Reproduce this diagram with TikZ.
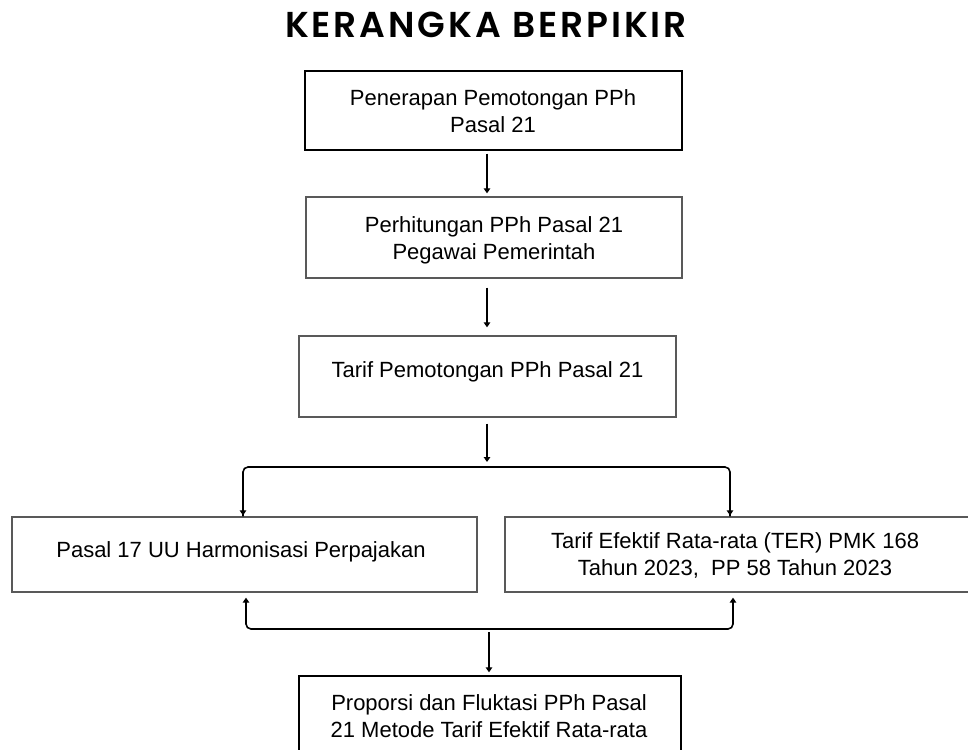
\documentclass[tikz,border=0pt]{standalone}
\usepackage{fontspec}
\setmainfont{Liberation Sans}
\newfontfamily\titlefont{Poppins}[BoldFont=* SemiBold,LetterSpace=8]
\usetikzlibrary{arrows.meta}
\begin{document}
\begin{tikzpicture}[x=1pt,y=-1pt,
  box/.style={draw=#1,line width=1.3pt,rectangle,inner sep=0pt,anchor=center},
  box/.default={black!65},
  txt/.style={font=\fontsize{22}{27}\selectfont,align=center,inner sep=0pt,anchor=center},
  arr/.style={line width=1.6pt,-{Triangle[length=5pt,width=6.5pt]}},
  link/.style={line width=1.6pt,rounded corners=5pt}]
\useasboundingbox (0,0) rectangle (968,749);
% boxes
\node[box=black,minimum width=377pt,minimum height=79pt] (b1) at (493.5,110.5) {};
\node[txt] (t1) at (493,111) {Penerapan Pemotongan PPh\\Pasal 21};
\node[box,minimum width=376pt,minimum height=81pt] (b2) at (494,237.5) {};
\node[txt] (t2) at (494,240) {Perhitungan PPh Pasal 21\\Pegawai Pemerintah};
\node[box,minimum width=377pt,minimum height=81pt] (b3) at (487.5,376.5) {};
\node[txt] (t3) at (487.5,372) {Tarif Pemotongan PPh Pasal 21};
\node[box,minimum width=465pt,minimum height=75pt] (bl) at (244.5,554.5) {};
\node[txt] (tl) at (241,552) {Pasal 17 UU Harmonisasi Perpajakan};
\node[box,minimum width=466pt,minimum height=75pt] (br) at (738,554.5) {};
\node[txt] (tr) at (735,555) {Tarif Efektif Rata-rata (TER) PMK 168\\Tahun 2023,\ \ PP 58 Tahun 2023};
\node[box=black,minimum width=382pt,minimum height=90pt] (b5) at (490,721) {};
\node[txt] (t5) at (489,716) {Proporsi dan Fluktasi PPh Pasal\\21 Metode Tarif Efektif Rata-rata};
% title
\node[font=\titlefont\bfseries\fontsize{36}{42}\selectfont,inner sep=0pt] (title) at (486,25) {KERANGKA BERPIKIR};
% connectors
\coordinate (cx) at (487,0);
\coordinate (cy) at (489,0);
\coordinate (lx) at (243,0);
\coordinate (rx) at (730,0);
\coordinate (lx2) at (246,0);
\coordinate (rx2) at (733,0);
\coordinate (hy) at (0,467);
\coordinate (hy2) at (0,629);
\draw[arr,shorten <=3pt,shorten >=3pt] (b1.south -| cx) -- (b2.north -| cx);
\draw[arr,shorten <=9pt,shorten >=8pt] (b2.south -| cx) -- (b3.north -| cx);
\draw[arr,shorten <=6pt,shorten >=5pt] (b3.south -| cx) -- (hy -| cx);
\draw[link] (lx |- bl.north) -- (lx |- hy) -- (rx |- hy) -- (rx |- br.north);
\draw[arr] (lx |- 0,480) -- ([yshift=1pt]lx |- bl.north);
\draw[arr] (rx |- 0,480) -- ([yshift=1pt]rx |- br.north);
\draw[link] (lx2 |- 0,610) -- (lx2 |- hy2) -- (rx2 |- hy2) -- (rx2 |- 0,610);
\draw[arr,shorten >=5pt] (lx2 |- 0,615) -- (lx2 |- bl.south);
\draw[arr,shorten >=5pt] (rx2 |- 0,615) -- (rx2 |- br.south);
\draw[arr,shorten <=3pt,shorten >=3pt] (cy |- hy2) -- (cy |- b5.north);
\end{tikzpicture}
\end{document}
